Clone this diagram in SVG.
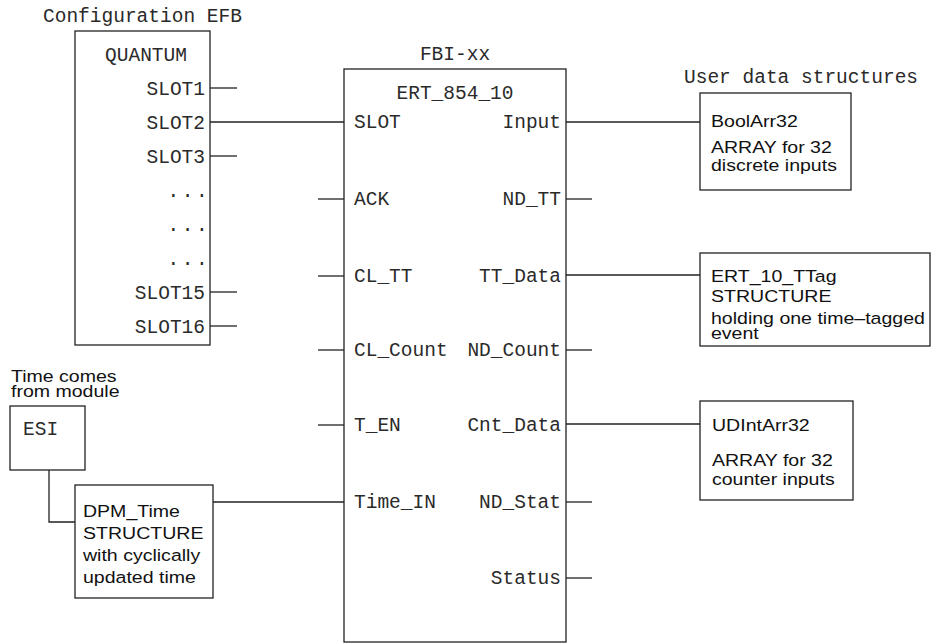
<svg xmlns="http://www.w3.org/2000/svg" width="933" height="644" viewBox="0 0 933 644">
<style>
.box{fill:#fff;stroke:#222;stroke-width:1.3}
.ln{fill:none;stroke:#222;stroke-width:1.3}
.m{font-family:"Liberation Mono","Courier New",monospace;font-size:19.5px;fill:#2a2a2a}
.e{text-anchor:end}
.c{text-anchor:middle}
.s{font-family:"Liberation Sans",Arial,sans-serif;font-size:17px;fill:#111}
</style>
<rect width="933" height="644" fill="#fff"/>
<g id="connectors">
<line class="ln" x1="210" y1="88" x2="237" y2="88"/>
<line class="ln" x1="210" y1="122" x2="344" y2="122"/>
<line class="ln" x1="210" y1="156" x2="237" y2="156"/>
<line class="ln" x1="210" y1="292" x2="237" y2="292"/>
<line class="ln" x1="210" y1="326" x2="237" y2="326"/>
<line class="ln" x1="318" y1="199" x2="344" y2="199"/>
<line class="ln" x1="318" y1="276" x2="344" y2="276"/>
<line class="ln" x1="318" y1="350" x2="344" y2="350"/>
<line class="ln" x1="318" y1="425" x2="344" y2="425"/>
<line class="ln" x1="213" y1="502" x2="344" y2="502"/>
<line class="ln" x1="566" y1="122" x2="700" y2="122"/>
<line class="ln" x1="566" y1="199" x2="592" y2="199"/>
<line class="ln" x1="566" y1="275" x2="700" y2="275"/>
<line class="ln" x1="566" y1="350" x2="592" y2="350"/>
<line class="ln" x1="566" y1="424" x2="700" y2="424"/>
<line class="ln" x1="566" y1="502" x2="592" y2="502"/>
<line class="ln" x1="566" y1="578" x2="592" y2="578"/>
<polyline class="ln" points="49,470 49,522 75,522"/>
</g>
<g id="config-efb">
<text class="m" x="43" y="22">Configuration EFB</text>
<rect class="box" x="75" y="31" width="135" height="314"/>
<text class="m c" x="146" y="61">QUANTUM</text>
<text class="m e" x="205" y="95">SLOT1</text>
<text class="m e" x="205" y="129">SLOT2</text>
<text class="m e" x="205" y="163">SLOT3</text>
<text class="m" x="167.5" y="197" letter-spacing="2.6">...</text>
<text class="m" x="167.5" y="231" letter-spacing="2.6">...</text>
<text class="m" x="167.5" y="265" letter-spacing="2.6">...</text>
<text class="m e" x="205" y="299">SLOT15</text>
<text class="m e" x="205" y="333">SLOT16</text>
</g>
<g id="fbi">
<text class="m c" x="455" y="60">FBI-xx</text>
<rect class="box" x="344" y="69" width="222" height="573"/>
<text class="m c" x="455" y="99">ERT_854_10</text>
<text class="m" x="354" y="128">SLOT</text>
<text class="m" x="354" y="205">ACK</text>
<text class="m" x="354" y="282">CL_TT</text>
<text class="m" x="354" y="356">CL_Count</text>
<text class="m" x="354" y="431">T_EN</text>
<text class="m" x="354" y="508">Time_IN</text>
<text class="m e" x="561" y="128">Input</text>
<text class="m e" x="561" y="205">ND_TT</text>
<text class="m e" x="561" y="282">TT_Data</text>
<text class="m e" x="561" y="356">ND_Count</text>
<text class="m e" x="561" y="431">Cnt_Data</text>
<text class="m e" x="561" y="508">ND_Stat</text>
<text class="m e" x="561" y="584">Status</text>
</g>
<g id="user-data-label">
<text class="m" x="684" y="83">User data structures</text>
</g>
<g id="boolarr32">
<rect class="box" x="700" y="93" width="151" height="97"/>
<g transform="translate(711,0) scale(1.15,1)">
<text class="s" x="0" y="127">BoolArr32</text>
<text class="s" x="0" y="153">ARRAY for 32</text>
<text class="s" x="0" y="171">discrete inputs</text>
</g>
</g>
<g id="ert-10-ttag">
<rect class="box" x="700" y="253" width="230" height="93"/>
<g transform="translate(711,0) scale(1.15,1)">
<text class="s" x="0" y="282">ERT_10_TTag</text>
<text class="s" x="0" y="302">STRUCTURE</text>
<text class="s" x="0" y="324">holding one time–tagged</text>
<text class="s" x="0" y="339">event</text>
</g>
</g>
<g id="udintarr32">
<rect class="box" x="700" y="401" width="153" height="99"/>
<g transform="translate(712,0) scale(1.15,1)">
<text class="s" x="0" y="431">UDIntArr32</text>
<text class="s" x="0" y="466">ARRAY for 32</text>
<text class="s" x="0" y="485">counter inputs</text>
</g>
</g>
<g id="esi">
<g transform="translate(11,0) scale(1.15,1)">
<text class="s" x="0" y="382">Time comes</text>
<text class="s" x="0" y="397">from module</text>
</g>
<rect class="box" x="10" y="406" width="75" height="64"/>
<text class="m" x="23" y="435">ESI</text>
</g>
<g id="dpm-time">
<rect class="box" x="75" y="485" width="138" height="113"/>
<g transform="translate(83,0) scale(1.15,1)">
<text class="s" x="0" y="517">DPM_Time</text>
<text class="s" x="0" y="539">STRUCTURE</text>
<text class="s" x="0" y="561">with cyclically</text>
<text class="s" x="0" y="583">updated time</text>
</g>
</g>
</svg>
